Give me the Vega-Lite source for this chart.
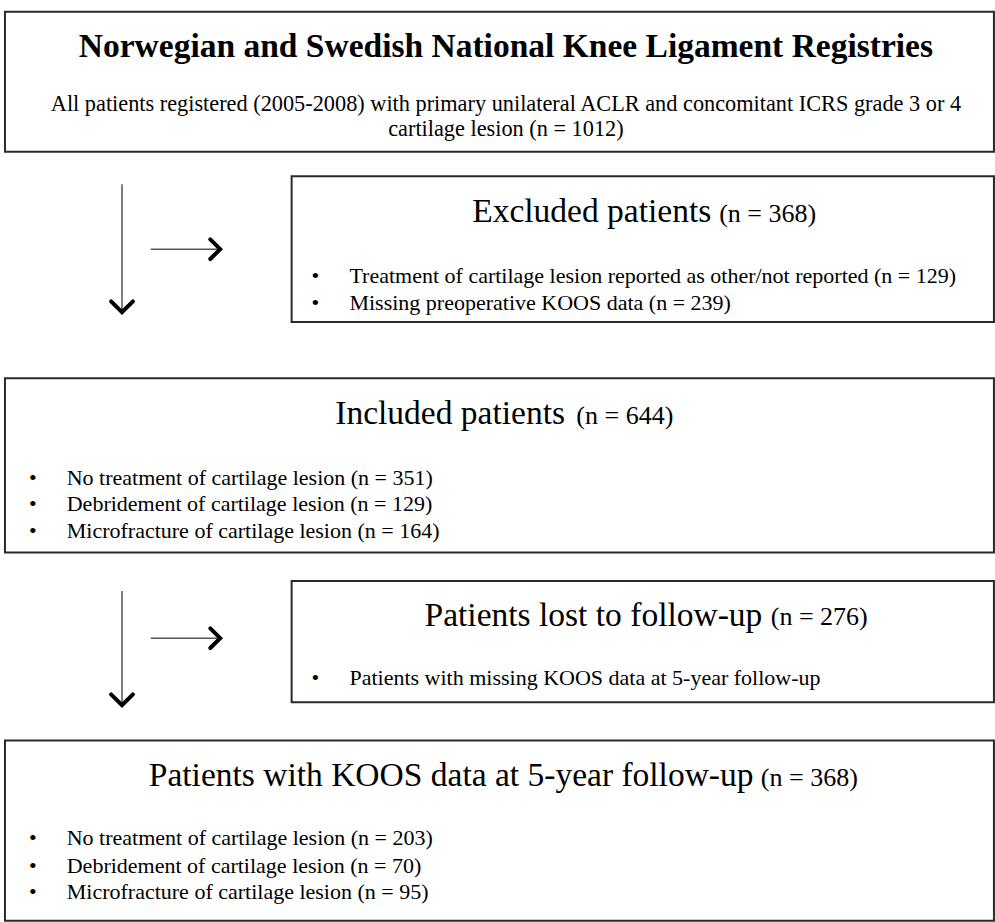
{
  "$schema": "https://vega.github.io/schema/vega-lite/v6.json",
  "width": 995,
  "height": 922,
  "padding": 0,
  "autosize": {"type": "fit", "contains": "padding"},
  "background": "white",
  "config": {"view": {"stroke": null}},
  "datasets": {
    "boxes": [
      {"x": 5, "x2": 1002, "y": 12, "y2": 154},
      {"x": 294, "x2": 1002, "y": 179, "y2": 327},
      {"x": 5, "x2": 1002, "y": 384, "y2": 561},
      {"x": 294, "x2": 1002, "y": 590, "y2": 713},
      {"x": 5, "x2": 1002, "y": 752, "y2": 935}
    ],
    "shafts": [
      {"x": 123, "y": 187, "x2": 123, "y2": 316},
      {"x": 152, "y": 253, "x2": 221, "y2": 253},
      {"x": 123, "y": 600, "x2": 123, "y2": 716},
      {"x": 152, "y": 648, "x2": 221, "y2": 648}
    ],
    "heads": [
      {"id": "a", "o": 1, "x": 112, "y": 306},
      {"id": "a", "o": 2, "x": 123, "y": 317},
      {"id": "a", "o": 3, "x": 134, "y": 306},
      {"id": "b", "o": 1, "x": 212, "y": 243},
      {"id": "b", "o": 2, "x": 222, "y": 253},
      {"id": "b", "o": 3, "x": 212, "y": 263},
      {"id": "c", "o": 1, "x": 112, "y": 705},
      {"id": "c", "o": 2, "x": 123, "y": 716},
      {"id": "c", "o": 3, "x": 134, "y": 705},
      {"id": "d", "o": 1, "x": 212, "y": 638},
      {"id": "d", "o": 2, "x": 222, "y": 648},
      {"id": "d", "o": 3, "x": 212, "y": 658}
    ],
    "title": [
      {"x": 510, "y": 48, "text": "Norwegian and Swedish National Knee Ligament Registries"}
    ],
    "subtitle": [
      {"x": 510, "y": 106, "text": "All patients registered (2005-2008) with primary unilateral ACLR and concomitant ICRS grade 3 or 4"},
      {"x": 510, "y": 131, "text": "cartilage lesion (n = 1012)"}
    ],
    "headers": [
      {"x": 476, "y": 215, "text": "Excluded patients"},
      {"x": 338, "y": 420, "text": "Included patients"},
      {"x": 428, "y": 625, "text": "Patients lost to follow-up"},
      {"x": 150, "y": 788, "text": "Patients with KOOS data at 5-year follow-up"}
    ],
    "counts": [
      {"x": 725, "y": 217, "text": "(n = 368)"},
      {"x": 581, "y": 422, "text": "(n = 644)"},
      {"x": 777, "y": 627, "text": "(n = 276)"},
      {"x": 767, "y": 790, "text": "(n = 368)"}
    ],
    "bullets": [
      {"x": 318, "y": 280, "text": "Treatment of cartilage lesion reported as other/not reported (n = 129)"},
      {"x": 318, "y": 308, "text": "Missing preoperative KOOS data (n = 239)"},
      {"x": 33, "y": 485, "text": "No treatment of cartilage lesion (n = 351)"},
      {"x": 33, "y": 512, "text": "Debridement of cartilage lesion (n = 129)"},
      {"x": 33, "y": 539, "text": "Microfracture of cartilage lesion (n = 164)"},
      {"x": 318, "y": 688, "text": "Patients with missing KOOS data at 5-year follow-up"},
      {"x": 33, "y": 851, "text": "No treatment of cartilage lesion (n = 203)"},
      {"x": 33, "y": 879, "text": "Debridement of cartilage lesion (n = 70)"},
      {"x": 33, "y": 906, "text": "Microfracture of cartilage lesion (n = 95)"}
    ]
  },
  "encoding": {
    "x": {"field": "x", "type": "quantitative", "scale": {"domain": [0, 995], "nice": false, "zero": false}, "axis": null},
    "y": {"field": "y", "type": "quantitative", "scale": {"domain": [0, 922], "nice": false, "zero": false, "reverse": true}, "axis": null}
  },
  "layer": [
    {
      "data": {"name": "boxes"},
      "mark": {"type": "rect", "fill": "white", "stroke": "#2a2a2a", "strokeWidth": 2},
      "encoding": {"x2": {"field": "x2"}, "y2": {"field": "y2"}}
    },
    {
      "data": {"name": "shafts"},
      "mark": {"type": "rule", "stroke": "#555", "strokeWidth": 1.5},
      "encoding": {"x2": {"field": "x2"}, "y2": {"field": "y2"}}
    },
    {
      "data": {"name": "heads"},
      "mark": {"type": "line", "stroke": "black", "strokeWidth": 4, "strokeCap": "round", "strokeJoin": "miter"},
      "encoding": {"detail": {"field": "id"}, "order": {"field": "o"}}
    },
    {
      "data": {"name": "title"},
      "mark": {"type": "text", "font": "Liberation Serif", "fontSize": 33.5, "fontWeight": "bold", "align": "center", "baseline": "middle", "color": "black"},
      "encoding": {"text": {"field": "text"}}
    },
    {
      "data": {"name": "subtitle"},
      "mark": {"type": "text", "font": "Liberation Serif", "fontSize": 22.3, "align": "center", "baseline": "middle", "color": "black"},
      "encoding": {"text": {"field": "text"}}
    },
    {
      "data": {"name": "headers"},
      "mark": {"type": "text", "font": "Liberation Serif", "fontSize": 33.5, "align": "left", "baseline": "middle", "color": "black"},
      "encoding": {"text": {"field": "text"}}
    },
    {
      "data": {"name": "counts"},
      "mark": {"type": "text", "font": "Liberation Serif", "fontSize": 26, "align": "left", "baseline": "middle", "color": "black"},
      "encoding": {"text": {"field": "text"}}
    },
    {
      "data": {"name": "bullets"},
      "mark": {"type": "text", "font": "Liberation Serif", "fontSize": 22, "align": "left", "baseline": "middle", "color": "black", "dx": 34},
      "encoding": {"text": {"field": "text"}}
    },
    {
      "data": {"name": "bullets"},
      "mark": {"type": "text", "font": "Liberation Serif", "fontSize": 22, "align": "center", "baseline": "middle", "color": "black", "text": "•"}
    }
  ]
}
